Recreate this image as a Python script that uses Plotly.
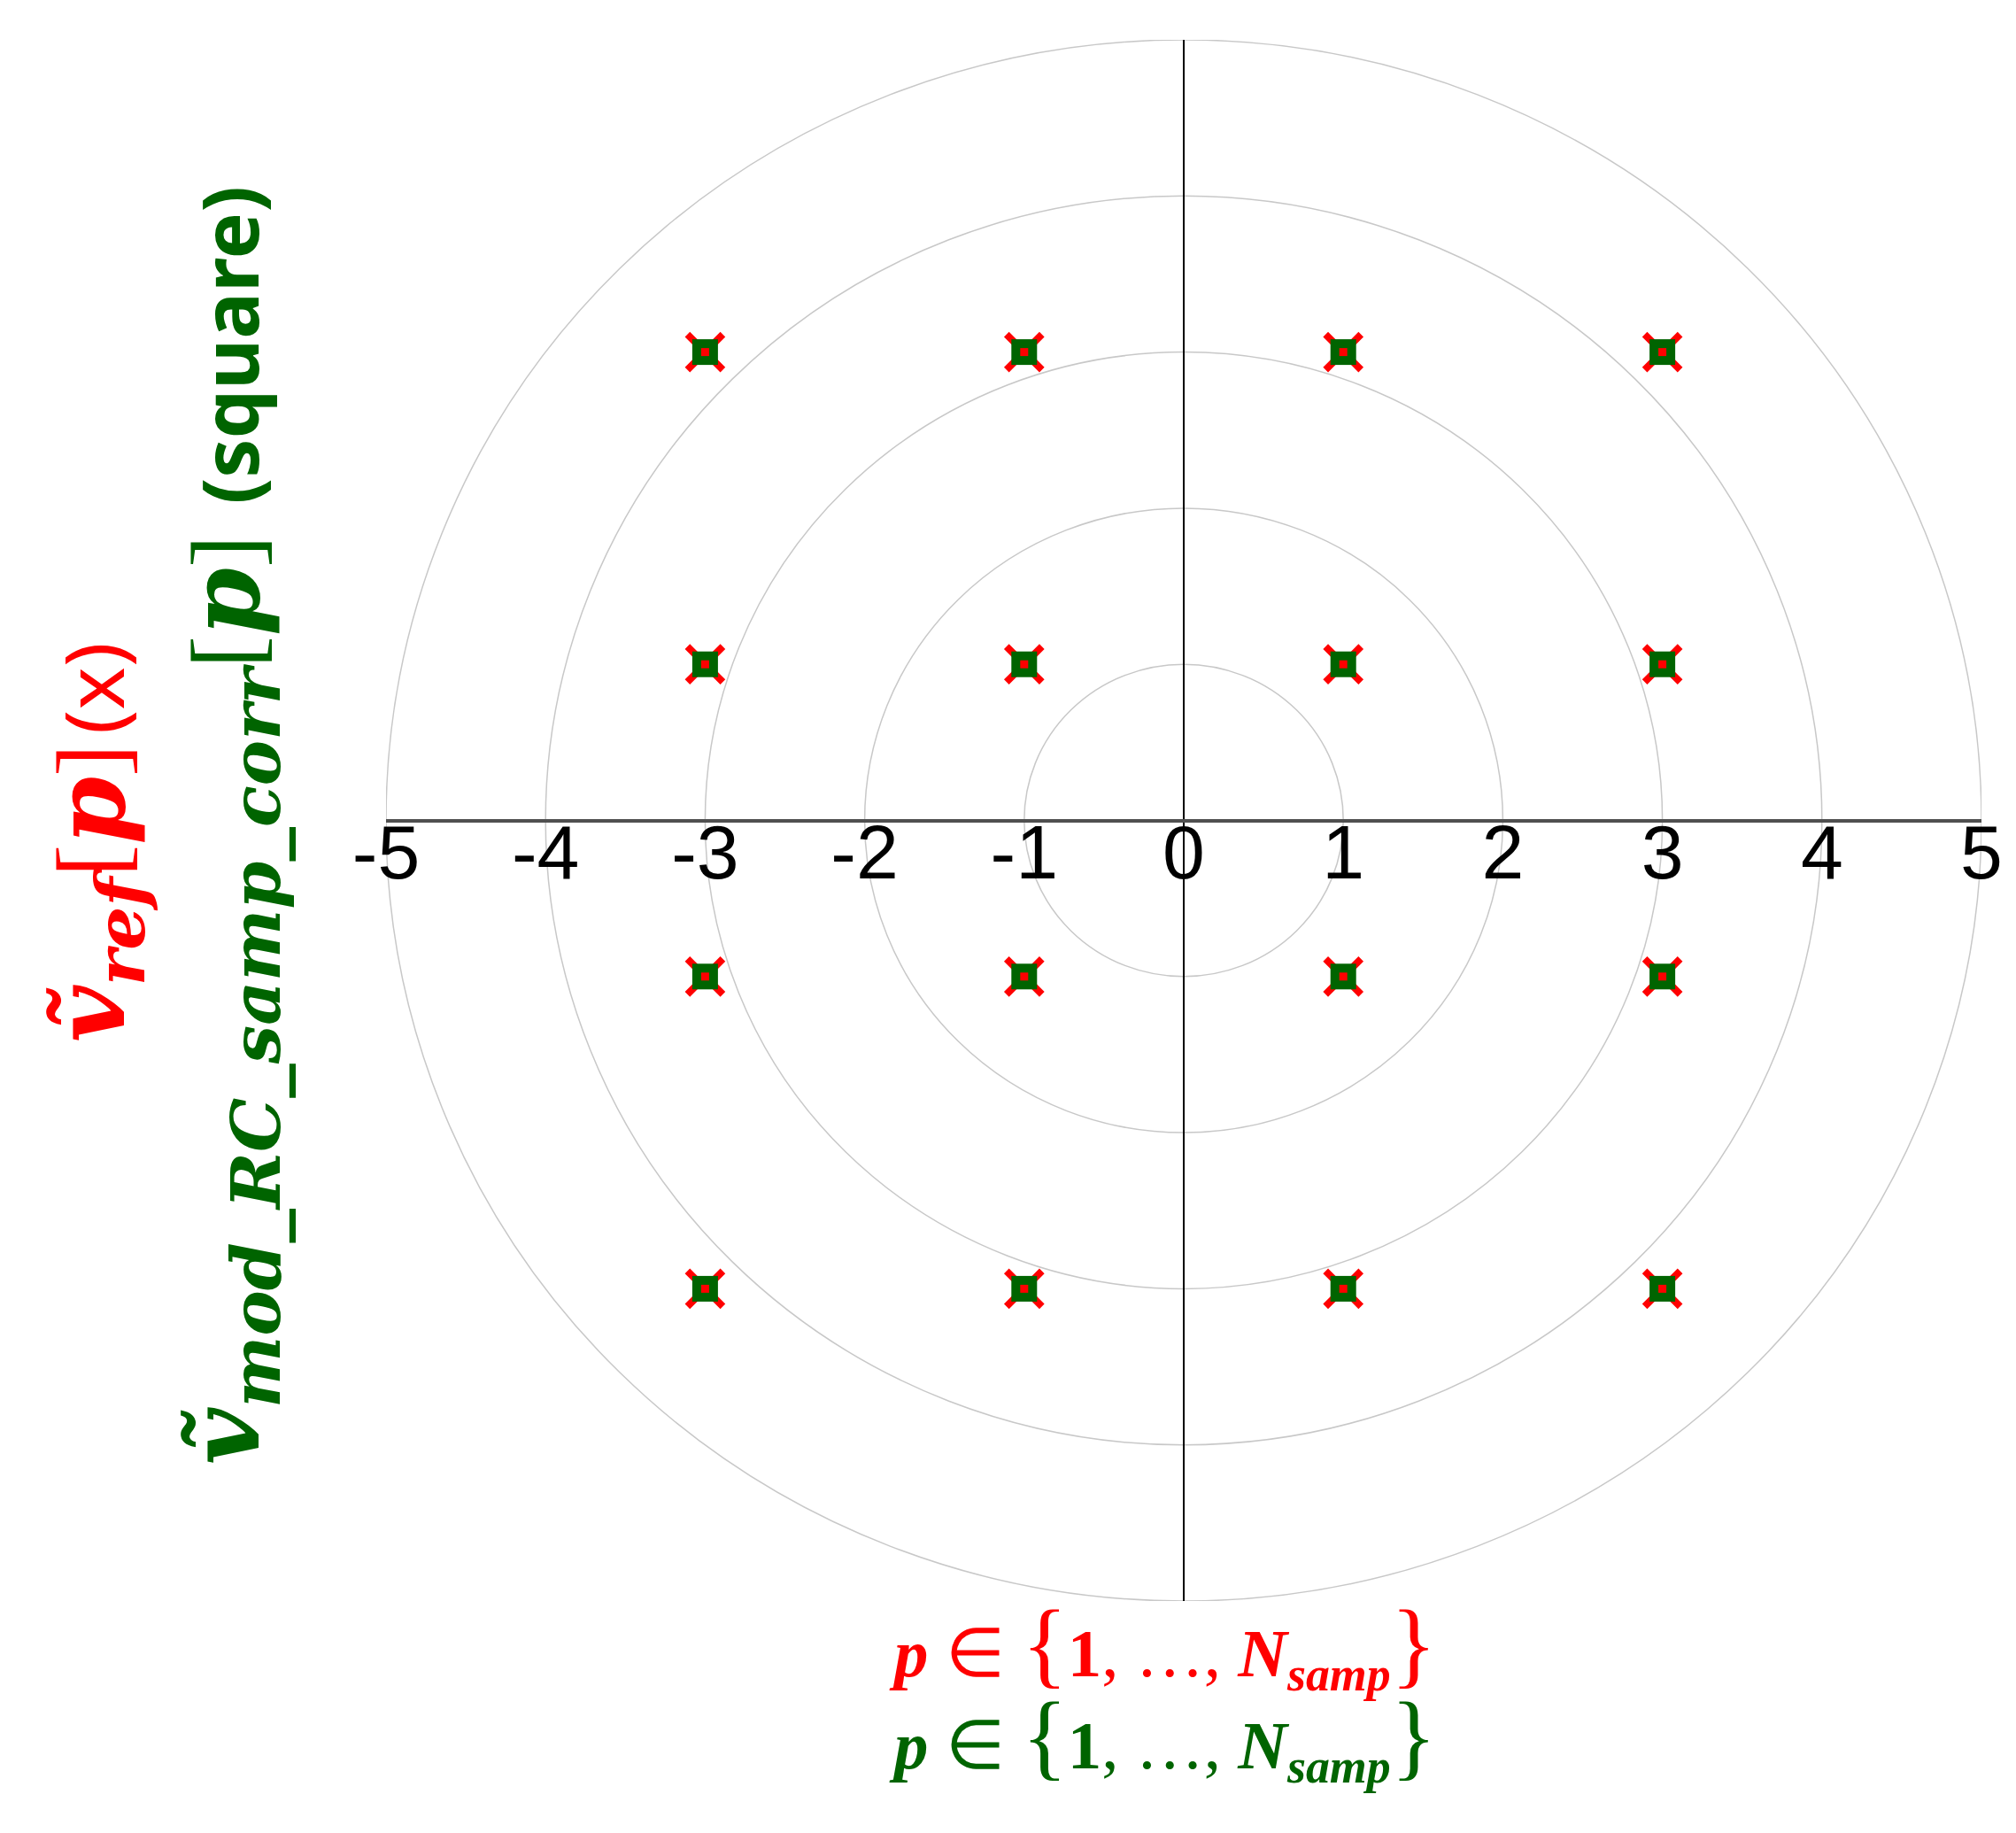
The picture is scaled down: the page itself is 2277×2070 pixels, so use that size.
"""16-QAM constellation: reference symbols vs corrected model samples."""

import plotly.graph_objects as go

# ---------------------------------------------------------------------------
# Data
# ---------------------------------------------------------------------------

ref_i = [-3, -1, 1, 3, -3, -1, 1, 3, -3, -1, 1, 3, -3, -1, 1, 3]
ref_q = [3, 3, 3, 3, 1, 1, 1, 1, -1, -1, -1, -1, -3, -3, -3, -3]

mod_i = [-3, -1, 1, 3, -3, -1, 1, 3, -3, -1, 1, 3, -3, -1, 1, 3]
mod_q = [3, 3, 3, 3, 1, 1, 1, 1, -1, -1, -1, -1, -3, -3, -3, -3]

grid_radii = [1, 2, 3, 4, 5]
x_ticks = [-5, -4, -3, -2, -1, 0, 1, 2, 3, 4, 5]
x_tick_text = ["-5", "-4", "-3", "-2", "-1", "0", "1", "2", "3", "4", "5"]

RED = "#ff0000"
GREEN = "#006400"
MATH_FONT = "DejaVu Serif"
SANS_FONT = "Noto Sans"

fig = go.Figure()

# red "x" for reference symbols (below)
fig.add_trace(go.Scatter(
    x=ref_i, y=ref_q, mode="markers",
    marker=dict(symbol="x-thin", size=40, color=RED, line=dict(width=8, color=RED)),
    showlegend=False, hoverinfo="skip",
))
# green filled squares for model samples
fig.add_trace(go.Scatter(
    x=mod_i, y=mod_q, mode="markers",
    marker=dict(symbol="square", size=29, color=GREEN, line=dict(width=0)),
    showlegend=False, hoverinfo="skip",
))
# small red centre of the reference markers
fig.add_trace(go.Scatter(
    x=ref_i, y=ref_q, mode="markers",
    marker=dict(symbol="square", size=9, color=RED, line=dict(width=0)),
    showlegend=False, hoverinfo="skip",
))

# concentric grid circles
for r in grid_radii:
    fig.add_shape(
        type="circle", xref="x", yref="y",
        x0=-r, x1=r, y0=-r, y1=r,
        line=dict(color="#c8c8c8", width=1.5),
        layer="below",
    )

BRK = "<span style='font-family:Liberation Serif'>{}</span>"
red_label = (
    "<i><b>ṽ</b></i><sub><i><b>ref</b></i></sub>"
    + BRK.format("[") + "<i><b>p</b></i>" + BRK.format("]") + "\u200a"
    + f"<span style='font-family:{SANS_FONT};font-size:92px'>(x)</span>"
)
green_label = (
    "<i><b>ṽ</b></i><sub><i><b>mod_RC_samp_corr</b></i></sub>"
    + BRK.format("[") + "<i><b>p</b></i>" + BRK.format("]") + " "
    + f"<span style='font-family:{SANS_FONT};font-weight:bold;font-size:88px'>(square)</span>"
)
set_label = (
    "<i><b>p</b></i> ∈ <span style='font-size:108px'>{</span>"
    "<b>1</b>, …, <i><b>N</b></i><sub><i><b>samp</b></i></sub>"
    "<span style='font-size:108px'>}</span>"
)

fig.add_annotation(
    text=red_label, xref="paper", yref="paper", x=-0.1815, y=0.486,
    textangle=-90, showarrow=False, xanchor="center", yanchor="middle",
    font=dict(family=MATH_FONT, size=110, color=RED),
)
fig.add_annotation(
    text=green_label, xref="paper", yref="paper", x=-0.097, y=0.497,
    textangle=-90, showarrow=False, xanchor="center", yanchor="middle",
    font=dict(family=MATH_FONT, size=110, color=GREEN),
)
fig.add_annotation(
    text=set_label, xref="paper", yref="paper", x=0.487, y=-0.029,
    showarrow=False, xanchor="center", yanchor="middle",
    font=dict(family="Liberation Serif", size=77, color=RED),
)
fig.add_annotation(
    text=set_label, xref="paper", yref="paper", x=0.487, y=-0.088,
    showarrow=False, xanchor="center", yanchor="middle",
    font=dict(family="Liberation Serif", size=77, color=GREEN),
)

fig.update_layout(
    width=2277, height=2070,
    margin=dict(l=428, r=47, t=37, b=270),
    paper_bgcolor="white", plot_bgcolor="white",
    xaxis=dict(
        range=[-5, 5], anchor="free", position=0.5,
        tickvals=x_ticks, ticktext=x_tick_text,
        ticks="", ticklabelstandoff=-22,
        tickfont=dict(family="Liberation Sans", size=86, color="black"),
        showgrid=False, showline=False,
        zeroline=True, zerolinecolor="black", zerolinewidth=2,
    ),
    yaxis=dict(
        range=[-5, 5], showticklabels=False, ticks="",
        showgrid=False, showline=False,
        zeroline=True, zerolinecolor="#505050", zerolinewidth=3.5,
    ),
)

fig.write_html("out.html")
